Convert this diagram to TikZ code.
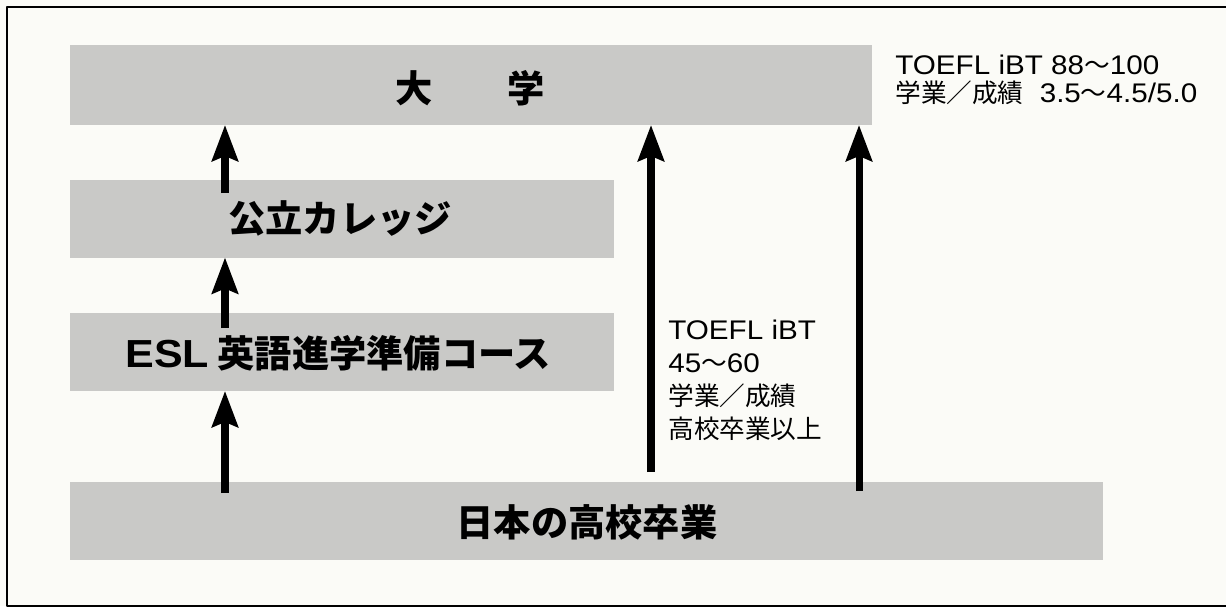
\documentclass[tikz,border=0pt]{standalone}
\usepackage{fontspec}
\setmainfont{Liberation Sans}[Scale=1.05,FakeStretch=1.1]
\newfontfamily\jp{Noto Sans CJK JP}
\usetikzlibrary{arrows.meta}
\usetikzlibrary{positioning}

\definecolor{bandgray}{RGB}{201,201,199}
\definecolor{paper}{RGB}{251,251,247}

\tikzset{
  band/.style={fill=bandgray,inner sep=0pt,outer sep=0pt},
  stage/.style={inner sep=0pt,font=\jp\bfseries\fontsize{21.2pt}{24pt}\selectfont},
  note/.style={inner sep=0pt,align=left,font=\fontsize{14.6pt}{18.8pt}\selectfont},
  up/.style={line width=4pt,line cap=butt,-{Stealth[length=0.72cm,width=0.52cm,inset=0.1cm]}}
}

\begin{document}
\begin{tikzpicture}[line cap=round,line join=round,x=0.02cm,y=-0.02cm]
\useasboundingbox (0,0) rectangle (1226,606);
\clip (0,0) rectangle (1226,606);
\fill[paper] (0,0) rectangle (1226,606);
\draw[line width=1.1pt] (7,7) rectangle (1240,606.3);
% bands
\node[band,minimum width=16.04cm,minimum height=1.6cm] (univ) at (471,85) {};
\node[band,minimum width=10.88cm,minimum height=1.56cm] (college) at (342,218.5) {};
\node[band,minimum width=10.88cm,minimum height=1.56cm] (esl) at (342,352) {};
\node[band,minimum width=20.66cm,minimum height=1.56cm] (school) at (586.5,521) {};
% labels
\node[stage] (univlbl) at (470,88) {大　　学};
\node[stage,anchor=west] (collegelbl) at (228,219) {公立カレッジ};
\node[stage,anchor=west] (esllbl) at (125,353) {{\rmfamily ESL} 英語進学準備コース};
\node[stage] (schoollbl) at (587,522) {日本の高校卒業};
\node[note,anchor=north west] (lownote) at (668,320) {TOEFL iBT\\45{\jp 〜}60\\{\jp 学業／成績}\\{\jp 高校卒業以上}};
\node[note,anchor=north west,font=\fontsize{14.6pt}{16pt}\selectfont] (topnote) at (895,55) {TOEFL iBT 88{\jp 〜}100\\{\jp 学業／成績}\hspace{0.6em}3.5{\jp 〜}4.5/5.0};
% arrows
\coordinate (s1) at (225,193);
\coordinate (s2) at (225,328);
\coordinate (s3) at (225,493);
\coordinate (s4) at (651,472);
\coordinate (s5) at (859,491);
\draw[up] (s1) -- (s1 |- univ.south);
\draw[up] (s2) -- (s2 |- college.south);
\draw[up] (s3) -- (s3 |- esl.south);
\draw[up] (s4) -- (s4 |- univ.south);
\draw[up] (s5) -- (s5 |- univ.south);
\end{tikzpicture}
\end{document}
